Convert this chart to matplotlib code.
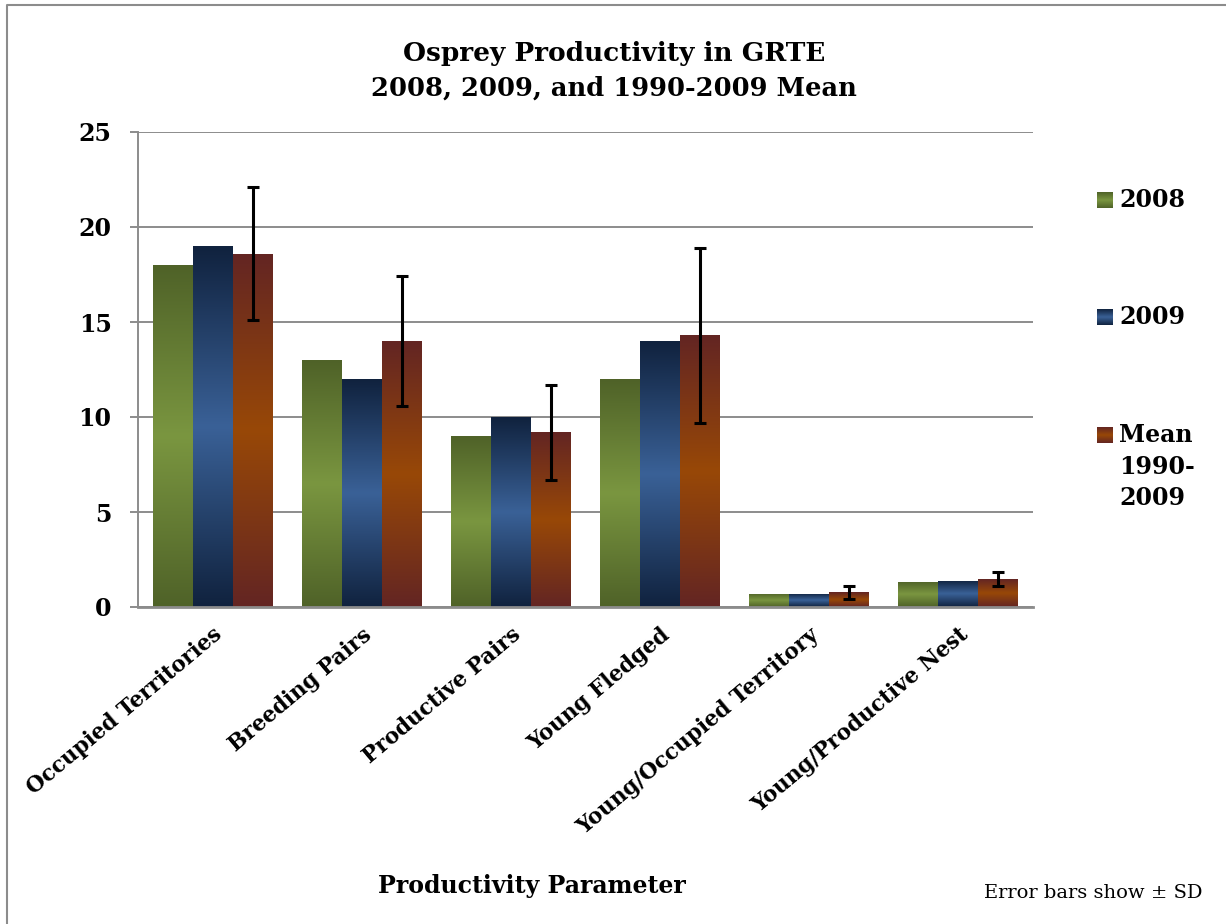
import numpy as np
import matplotlib
matplotlib.use("Agg")
import matplotlib.pyplot as plt
from matplotlib.colors import LinearSegmentedColormap
from matplotlib.lines import Line2D

plt.rcParams["font.family"] = ["DejaVu Serif"]

categories = ["Occupied Territories", "Breeding Pairs", "Productive Pairs",
              "Young Fledged", "Young/Occupied Territory", "Young/Productive Nest"]
vals_2008 = [18.0, 13.0, 9.0, 12.0, 0.70, 1.32]
vals_2009 = [19.0, 12.0, 10.0, 14.0, 0.70, 1.37]
vals_mean = [18.6, 14.0, 9.2, 14.3, 0.77, 1.47]
sd_mean = [3.5, 3.4, 2.5, 4.6, 0.35, 0.35]
series_labels = ["2008", "2009", "Mean\n1990-\n2009"]
y_ticks = [0, 5, 10, 15, 20, 25]

# (edge colour, centre colour) for the vertical shading of each series
shades = [("#4f6228", "#7a9640"),
          ("#10223e", "#3a6197"),
          ("#632523", "#984807")]


def shade_cmap(edge, mid):
    return LinearSegmentedColormap.from_list("s", [edge, mid, edge])


grad = np.linspace(0, 1, 256).reshape(-1, 1)

fig = plt.figure(figsize=(12.26, 9.24), dpi=100)
ax = fig.add_axes([138 / 1226, 1 - 607 / 924, 895 / 1226, 475 / 924])

x = np.arange(len(categories))
width = 0.268
series = [vals_2008, vals_2009, vals_mean]
for i, vals in enumerate(series):
    cmap = shade_cmap(*shades[i])
    bars = ax.bar(x + (i - 1) * width, vals, width, color="none", edgecolor="none", zorder=2)
    for rect in bars:
        x0, y0 = rect.get_x(), rect.get_y()
        im = ax.imshow(grad, cmap=cmap, aspect="auto", interpolation="bilinear",
                       extent=[x0, x0 + rect.get_width(), y0, y0 + rect.get_height()],
                       zorder=2)
        im.set_clip_path(rect)

ax.errorbar(x + width, vals_mean, yerr=sd_mean, fmt="none", ecolor="black",
            elinewidth=2.2, capsize=4.5, capthick=2.2, zorder=3)

ax.set_xlim(-0.5, len(categories) - 0.5)
ax.set_ylim(0, 25)
ax.set_yticks(y_ticks)
ax.set_yticklabels([str(t) for t in y_ticks], fontsize=17, fontweight="bold")
ax.yaxis.grid(True, color="#8c8c8c", linewidth=1.4, zorder=0)
ax.set_axisbelow(True)
ax.tick_params(axis="y", length=6, width=1.4, color="#8c8c8c", pad=13)
ax.tick_params(axis="x", length=0, pad=12)
ax.set_xticks(x)
ax.set_xticklabels(categories, rotation=40, ha="right", va="top",
                   rotation_mode="anchor", fontsize=15.5, fontweight="bold")

for side in ("top", "right"):
    ax.spines[side].set_visible(False)
for side in ("left", "bottom"):
    ax.spines[side].set_color("#8c8c8c")
ax.spines["left"].set_linewidth(1.4)
ax.spines["bottom"].set_linewidth(2.0)

fig.text(0.501, 1 - 54 / 924, "Osprey Productivity in GRTE", ha="center", va="center",
         fontsize=19, fontweight="bold")
fig.text(0.501, 1 - 88 / 924, "2008, 2009, and 1990-2009 Mean", ha="center", va="center",
         fontsize=18.5, fontweight="bold")
fig.text(532 / 1226, 1 - 886 / 924, "Productivity Parameter", ha="center", va="center",
         fontsize=17, fontweight="bold")
fig.text(1203 / 1226, 1 - 893 / 924, "Error bars show \u00b1 SD", ha="right", va="center",
         fontsize=14)

# legend: shaded swatches with labels
legend_y = [200, 317, 435]
for i, lab in enumerate(series_labels):
    yc = legend_y[i]
    sw = fig.add_axes([1097 / 1226, 1 - (yc + 8) / 924, 16 / 1226, 16 / 924])
    sw.imshow(grad, cmap=shade_cmap(*shades[i]), aspect="auto", interpolation="bilinear")
    sw.set_axis_off()
    fig.text(1119 / 1226, 1 - (yc - 12) / 924, lab, ha="left", va="top",
             fontsize=17, fontweight="bold", linespacing=1.4)

# outer frame on the left and top
fig.add_artist(Line2D([7 / 1226, 7 / 1226, 1.0], [0.0, 1 - 5 / 924, 1 - 5 / 924],
                      color="#8c8c8c", linewidth=1.5))

fig.savefig("out.png", dpi=100)
